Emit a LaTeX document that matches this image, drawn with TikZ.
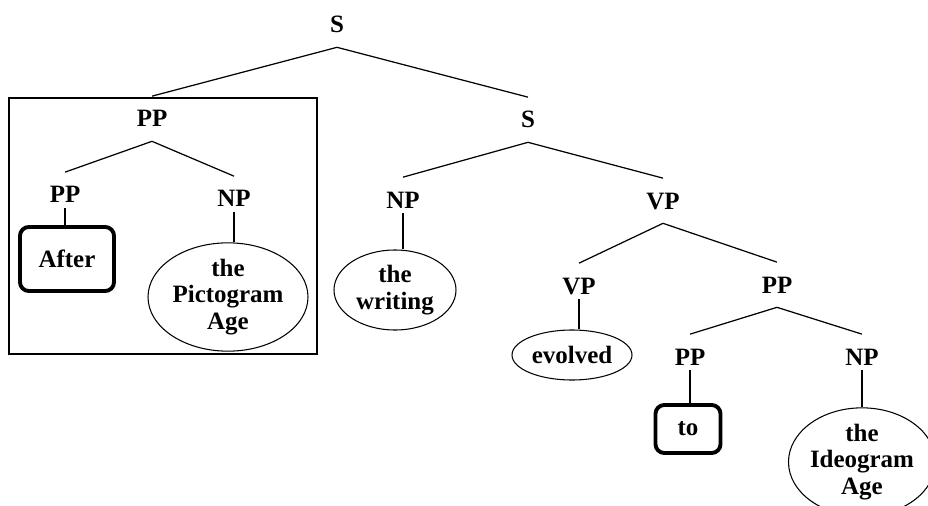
\documentclass[tikz,border=0pt]{standalone}
\usepackage{fontspec}
\setmainfont{Liberation Serif}
\usetikzlibrary{shapes}

\begin{document}
\begin{tikzpicture}[x=0.2mm, y=-0.2mm, line width=0.7pt,
    every node/.style={font=\fontsize{14.2}{15.3}\selectfont\bfseries},
    cat/.style={anchor=base, inner xsep=2pt, inner ysep=7.8pt, text height=9.4pt, text depth=0pt},
    word/.style={draw, line width=2.2pt, rounded corners=5pt, inner sep=0pt},
    phrase/.style={draw, ellipse, line width=0.6pt, inner sep=0pt, align=center}]
      \useasboundingbox (0,0) rectangle (928,506);
      % the labels
      \node[cat] (s1) at (337,33) {S};
      \node[cat] (pp1) at (152,127) {PP}; \node[cat] (s2) at (528,128) {S};
      \node[cat] (pp2) at (65,203) {PP}; \node[cat] (np1) at (234,207) {NP};
      \node[cat] (np2) at (403,208) {NP}; \node[cat] (vp1) at (663,209) {VP};
      \node[cat] (vp2) at (579,294) {VP}; \node[cat] (pp3) at (777,293) {PP};
      \node[cat] (pp4) at (690,365) {PP}; \node[cat] (np3) at (862,365) {NP};
      % the words
      \node[word, minimum width=18.8mm, minimum height=12.8mm] (after) at (67,259) {After};
      \node[phrase, minimum width=32mm, minimum height=19.6mm] (pict) at (228,297) {the\\Pictogram\\Age};
      \node[phrase, minimum width=24.4mm, minimum height=16mm] (writ) at (395,290) {the\\writing};
      \node[phrase, minimum width=24mm, minimum height=10mm] (evol) at (572,355) {evolved};
      \node[word, minimum width=13mm, minimum height=9.6mm] (to) at (688,429) {to};
      \node[phrase, minimum width=26.4mm, minimum height=19.2mm] (ideo) at (862,462) {the\\Ideogram\\Age};
      % branches
      \draw (s1.south) -- (pp1.north); \draw (s1.south) -- (s2.north);
      \draw (pp1.south) -- (pp2.north); \draw (pp1.south) -- (np1.north);
      \draw (s2.south) -- (np2.north); \draw (s2.south) -- (vp1.north);
      \draw (vp1.south) -- (vp2.north); \draw (vp1.south) -- (pp3.north);
      \draw (pp3.south) -- (pp4.north); \draw (pp3.south) -- (np3.north);
      \draw ([yshift=-2.8pt]pp2.base) -- (pp2.base |- after.north);
      \draw ([yshift=-2.8pt]np1.base) -- (np1.base |- pict.north);
      \draw ([yshift=-2.8pt]np2.base) -- (np2.base |- writ.north);
      \draw ([yshift=-2.8pt]vp2.base) -- (vp2.base |- evol.north);
      \draw ([yshift=-2.8pt]pp4.base) -- (pp4.base |- to.north);
      \draw ([yshift=-2.8pt]np3.base) -- (np3.base |- ideo.north);
      % frame round the fronted PP
      \draw[line width=0.8pt] (9,98) rectangle (317,354);
\end{tikzpicture}
\end{document}
